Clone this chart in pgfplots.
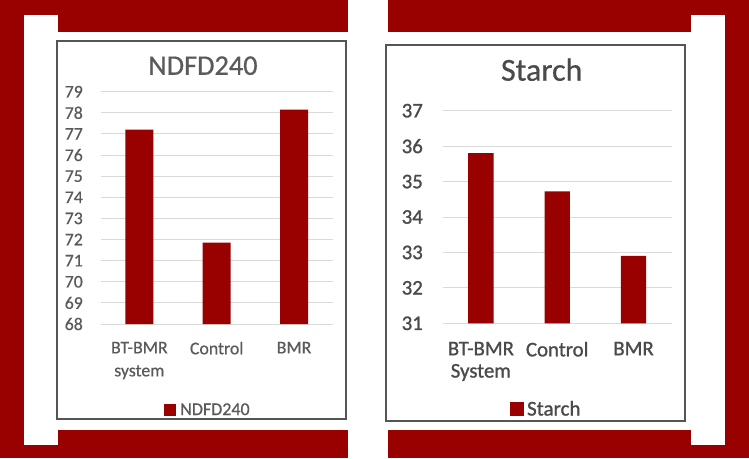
\documentclass[border=0pt]{standalone}
\usepackage{fontspec}
\setmainfont{Carlito}
\newfontfamily\fontL{Carlito}[FakeBold=0.6]
\newfontfamily\fontR{Carlito}[FakeBold=1.1]
\usepackage{pgfplots}
\pgfplotsset{compat=1.18}
\definecolor{barred}{RGB}{153,0,0}
\definecolor{bgred}{RGB}{153,0,0}
\definecolor{txtL}{HTML}{5A5A5A}
\definecolor{txtR}{HTML}{4A4A4A}
\definecolor{gridc}{HTML}{D9D9D9}
\definecolor{boxc}{HTML}{555555}
\begin{document}
\begin{tikzpicture}[x=1pt,y=1pt]
\fill[bgred] (0,0) rectangle (749,458);
\fill[white] (24,13) rectangle (725,443);
\fill[white] (348,0) rectangle (388,458);
\fill[bgred] (58,426) rectangle (348,458);
\fill[bgred] (388,426) rectangle (691,458);
\fill[bgred] (58,0) rectangle (348,28);
\fill[bgred] (388,0) rectangle (691,28);
\draw[boxc, line width=1.2pt] (57,39) rectangle (346,417);
\draw[boxc, line width=1.2pt] (386,37) rectangle (685,413);

\node[txtL, font=\fontL\fontsize{28.3}{34}\selectfont, inner sep=0pt] at (203,392.3) {NDFD240};
\node[txtR, font=\fontL\fontsize{32}{38}\selectfont, inner sep=0pt] at (541.7,388.3) {Starch};

\begin{axis}[
 at={(100.7pt,134pt)}, anchor=south west, scale only axis,
 width=232pt, height=232.3pt,
 xmin=-0.5, xmax=2.5, ymin=68, ymax=79,
 ytick={68,...,79},
 xtick={0,1,2},
 xticklabels={{BT-BMR\\system},Control,BMR},
 ybar, bar width=28pt, bar shift=0pt,
 ymajorgrids, grid style={gridc, line width=1pt},
 axis line style={draw=none}, major tick length=0pt,
 tick label style={text=txtL, font=\fontL\fontsize{17.8}{23}\selectfont},
 /pgf/number format/assume math mode=true,
 yticklabel style={anchor=east, inner sep=0pt, xshift=-17.7pt},
 xticklabel style={anchor=north, inner sep=0pt, yshift=-17.7pt, align=center},
 legend style={at={(0.458,-0.370)}, anchor=center, draw=none, fill=none,
   inner sep=0pt, font=\fontL\fontsize{18}{22}\selectfont, text=txtL,
   nodes={inner sep=0pt}, /tikz/every odd column/.append style={column sep=4pt}},
 legend image code/.code={\fill[barred] (0pt,-6pt) rectangle (12pt,6pt);},
]
\addplot[fill=barred, draw=none] coordinates {(0,77.2) (1,71.85) (2,78.15)};
\addlegendentry{NDFD240}
\end{axis}

\begin{axis}[
 at={(442.7pt,134.7pt)}, anchor=south west, scale only axis,
 width=229pt, height=212.6pt,
 xmin=-0.5, xmax=2.5, ymin=31, ymax=37,
 ytick={31,...,37},
 xtick={0,1,2},
 xticklabels={{BT-BMR\\System},Control,BMR},
 ybar, bar width=25.4pt, bar shift=0pt,
 ymajorgrids, grid style={gridc, line width=1pt},
 axis line style={draw=none}, major tick length=0pt,
 tick label style={text=txtR, font=\fontR\fontsize{20.8}{22.3}\selectfont},
 /pgf/number format/assume math mode=true,
 yticklabel style={anchor=east, inner sep=0pt, xshift=-19.7pt},
 xticklabel style={anchor=north, inner sep=0pt, yshift=-18.4pt, align=center},
 legend style={at={(0.448,-0.403)}, anchor=center, draw=none, fill=none,
   inner sep=0pt, font=\fontR\fontsize{21}{25}\selectfont, text=txtR,
   nodes={inner sep=0pt}, /tikz/every odd column/.append style={column sep=3pt}},
 legend image code/.code={\fill[barred] (0pt,-7pt) rectangle (14pt,7pt);},
]
\addplot[fill=barred, draw=none] coordinates {(0,35.8) (1,34.72) (2,32.9)};
\addlegendentry{Starch}
\end{axis}
\pgfresetboundingbox
\useasboundingbox (0,0) rectangle (749,458);
\end{tikzpicture}
\end{document}
